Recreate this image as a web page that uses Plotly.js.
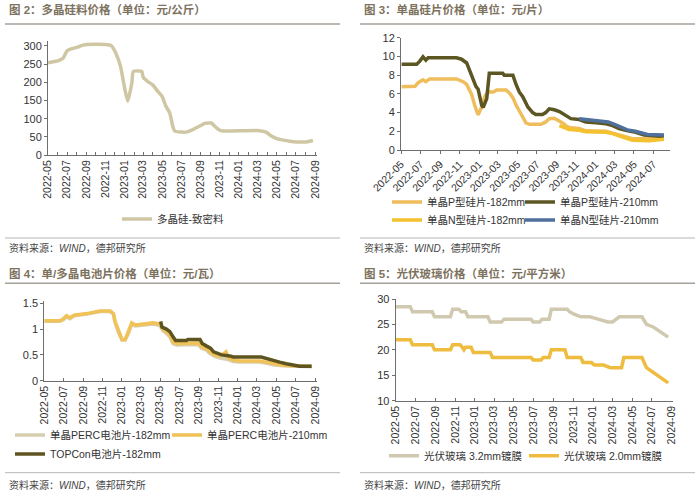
<!DOCTYPE html>
<html><head><meta charset="utf-8">
<script src="https://cdn.plot.ly/plotly-3.0.1.min.js"></script>
<style>html,body{margin:0;padding:0;background:#fff;}#chart{width:700px;height:495px;}</style>
</head><body><div id="chart"></div>
<script>
// ---------- Figure 2: polysilicon ----------
const polyDates = ['2022-05-01','2022-06-01','2022-06-18','2022-07-01','2022-07-14','2022-08-01','2022-08-16','2022-09-01','2022-11-01','2022-11-19','2022-12-04','2022-12-19','2023-01-01','2023-01-11','2023-01-24','2023-01-29','2023-02-25','2023-03-01','2023-03-16','2023-04-01','2023-04-17','2023-05-01','2023-05-13','2023-05-25','2023-06-04','2023-06-10','2023-07-01','2023-07-16','2023-08-07','2023-09-01','2023-09-14','2023-10-05','2023-10-16','2023-11-01','2023-11-12','2024-03-07','2024-03-28','2024-04-14','2024-05-01','2024-05-22','2024-06-12','2024-07-03','2024-08-04','2024-08-25'];
const polyDense = [254,259,266,287,292,296,301,304,304,301,280,243,184,148,198,230,230,214,202,193,175,161,134,116,79,66,63,63,70,81,87,88,79,68,66,67,63,52,45,41,38,36,36,40];

// ---------- Figure 3: wafers ----------
const wP182Dates = ['2022-05-03','2022-06-14','2022-06-24','2022-07-09','2022-07-18','2022-07-30','2022-10-22','2022-11-12','2022-11-23','2022-12-08','2022-12-18','2022-12-29','2023-01-09','2023-01-20','2023-01-30','2023-02-15','2023-02-25','2023-03-27','2023-04-06','2023-04-17','2023-04-27','2023-05-07','2023-05-18','2023-05-28','2023-06-08','2023-07-14','2023-07-29','2023-08-09','2023-08-25','2023-09-05','2023-09-20','2023-09-30','2023-10-11','2023-11-11','2023-12-02','2024-02-03','2024-02-24','2024-03-15','2024-04-05','2024-04-26','2024-06-17','2024-08-03'];
const wP182 = [6.75,6.8,7.2,7.5,7.3,7.6,7.6,7.3,7.0,6.0,4.8,3.75,4.6,5.8,6.2,6.2,6.4,6.4,6.1,5.6,4.8,4.2,3.5,2.9,2.75,2.75,3.0,3.35,3.4,3.2,2.9,2.6,2.4,2.3,2.05,2.0,1.8,1.6,1.35,1.2,1.2,1.3];
const wP210Dates = ['2022-05-03','2022-06-19','2022-06-29','2022-07-09','2022-07-18','2022-07-25','2022-10-22','2022-11-07','2022-11-23','2022-12-03','2022-12-13','2022-12-22','2022-12-29','2023-01-09','2023-01-14','2023-01-25','2023-02-02','2023-03-16','2023-03-21','2023-04-17','2023-04-27','2023-05-07','2023-05-18','2023-06-03','2023-06-18','2023-06-28','2023-07-19','2023-07-29','2023-08-09','2023-08-25','2023-09-10','2023-09-20','2023-09-30','2023-10-16','2023-11-11','2023-12-02','2024-01-03','2024-02-03','2024-02-24','2024-03-15','2024-04-05','2024-05-06','2024-06-02','2024-06-17','2024-08-03'];
const wP210 = [9.15,9.15,9.5,9.95,9.6,9.85,9.85,9.7,9.3,8.5,7.5,6.8,6.5,4.8,4.55,5.5,8.2,8.2,8.0,8.0,7.0,6.2,5.7,4.6,4.0,3.8,3.8,4.0,4.4,4.3,4.1,3.9,3.6,3.35,3.25,3.0,2.9,2.8,2.6,2.3,2.1,1.9,1.6,1.55,1.45];
const wN182Dates = ['2023-09-10','2023-09-30','2023-10-11','2023-11-11','2023-12-02','2024-02-03','2024-02-24','2024-03-15','2024-04-05','2024-04-26','2024-06-17','2024-08-03'];
const wN182 = [2.6,2.3,2.2,2.1,1.95,1.9,1.75,1.5,1.25,1.05,1.0,1.15];
const wN210Dates = ['2023-11-11','2023-12-10','2024-01-20','2024-02-10','2024-03-01','2024-03-20','2024-04-10','2024-05-05','2024-05-25','2024-06-12','2024-08-03'];
const wN210 = [3.35,3.25,3.15,3.0,2.75,2.45,2.15,2.0,1.85,1.65,1.6];

// ---------- Figure 4: cells ----------
const cP182Dates = ['2022-05-01','2022-06-19','2022-06-30','2022-07-10','2022-07-21','2022-08-03','2022-09-12','2022-10-13','2022-10-24','2022-11-25','2022-12-05','2022-12-10','2022-12-21','2023-01-01','2023-01-11','2023-01-22','2023-02-01','2023-02-12','2023-03-19','2023-04-09','2023-04-30','2023-05-10','2023-05-21','2023-06-01','2023-06-11','2023-06-22','2023-08-29','2023-09-09','2023-09-25','2023-10-05','2023-10-21','2023-11-06','2023-12-02','2023-12-18','2024-01-08','2024-03-10','2024-03-31','2024-04-21','2024-05-23','2024-06-24','2024-08-21'];
const cP182 = [1.15,1.15,1.18,1.24,1.2,1.26,1.29,1.32,1.34,1.34,1.29,1.13,0.93,0.79,0.79,0.93,1.1,1.06,1.08,1.1,1.07,0.97,0.92,0.85,0.72,0.69,0.7,0.63,0.59,0.53,0.47,0.44,0.41,0.37,0.36,0.36,0.34,0.31,0.29,0.28,0.27];
const cP210Dates = ['2022-05-01','2022-06-19','2022-06-30','2022-07-10','2022-07-21','2022-08-03','2022-09-12','2022-10-13','2022-10-24','2022-11-25','2022-12-05','2022-12-10','2022-12-21','2023-01-01','2023-01-11','2023-01-22','2023-02-01','2023-02-12','2023-03-19','2023-04-09','2023-04-30','2023-05-10','2023-05-21','2023-06-01','2023-06-11','2023-06-22','2023-08-29','2023-09-09','2023-09-25','2023-10-05','2023-10-21','2023-11-06','2023-11-17','2023-11-25','2023-12-02','2023-12-18','2024-01-08','2024-03-10','2024-03-31','2024-04-21','2024-05-23','2024-06-24','2024-08-21'];
const cP210 = [1.16,1.16,1.2,1.26,1.22,1.27,1.3,1.33,1.35,1.35,1.3,1.15,0.95,0.8,0.8,0.95,1.12,1.08,1.1,1.12,1.1,1.0,0.95,0.88,0.75,0.72,0.73,0.66,0.62,0.56,0.5,0.48,0.52,0.56,0.45,0.4,0.38,0.38,0.36,0.33,0.3,0.29,0.28];
const cTopDates = ['2023-05-03','2023-05-07','2023-05-21','2023-06-01','2023-06-11','2023-06-19','2023-07-23','2023-07-28','2023-09-04','2023-09-11','2023-09-25','2023-10-07','2023-10-17','2023-10-30','2023-11-11','2023-12-07','2023-12-18','2024-03-15','2024-03-31','2024-04-21','2024-05-12','2024-06-02','2024-06-24','2024-07-14','2024-08-21'];
const cTop = [1.15,1.04,1.0,0.95,0.85,0.78,0.78,0.8,0.8,0.72,0.67,0.63,0.56,0.52,0.5,0.48,0.46,0.46,0.43,0.4,0.36,0.33,0.3,0.28,0.28];

// ---------- Figure 5: PV glass ----------
const g32Dates = ['2022-05-01','2022-06-15','2022-06-22','2022-08-22','2022-08-29','2022-10-17','2022-10-24','2022-11-12','2022-11-19','2022-12-03','2022-12-10','2023-02-10','2023-02-17','2023-03-24','2023-04-01','2023-06-23','2023-06-30','2023-07-20','2023-07-27','2023-08-18','2023-08-25','2023-10-13','2023-10-20','2023-11-03','2023-11-24','2023-12-22','2024-01-19','2024-02-16','2024-03-01','2024-03-22','2024-05-31','2024-06-14','2024-07-05','2024-08-20'];
const g32 = [28.5,28.5,27.5,27.5,26.5,26.5,28,28,27.5,27.5,26.5,26.5,25.5,25.5,26,26,25.5,25.5,26,26,28,28,27.5,27,26.5,26.5,26,25.5,25.5,26.5,26.5,25,24.5,22.5];
const g20Dates = ['2022-05-01','2022-06-15','2022-06-22','2022-08-22','2022-08-29','2022-10-17','2022-10-24','2022-11-16','2022-11-23','2022-11-28','2022-12-03','2022-12-20','2022-12-27','2023-02-17','2023-02-24','2023-06-23','2023-06-30','2023-07-24','2023-07-31','2023-08-18','2023-08-25','2023-10-06','2023-10-13','2023-11-24','2023-12-01','2023-12-27','2024-01-05','2024-02-02','2024-02-23','2024-03-29','2024-04-05','2024-05-31','2024-06-14','2024-08-20'];
const g20 = [22,22,21,21,20,20,21,21,20.5,20,20.5,20.5,19.5,19.5,18.5,18.5,18,18,18.5,18.5,20,20,18.5,18.5,17.5,17.5,17,17,16.5,16.5,18.5,18.5,16.5,13.5];

// ---------- Texts ----------
const titles = ['图 2：多晶硅料价格（单位：元/公斤）','图 3：单晶硅片价格（单位：元/片）','图 4：单/多晶电池片价格（单位：元/瓦）','图 5：光伏玻璃价格（单位：元/平方米）'];
const sourceText = '资料来源：<i>WIND</i>，德邦研究所';
const names = {
  poly: '多晶硅-致密料',
  wP182: '单晶P型硅片-182mm', wP210: '单晶P型硅片-210mm', wN182: '单晶N型硅片-182mm', wN210: '单晶N型硅片-210mm',
  cP182: '单晶PERC电池片-182mm', cP210: '单晶PERC电池片-210mm', cTop: 'TOPCon电池片-182mm',
  g32: '光伏玻璃 3.2mm镀膜', g20: '光伏玻璃 2.0mm镀膜'
};

const W = 700, H = 495;
const px = v => v / W;
const py = v => 1 - v / H;
const LW = 3.5;
const FONT = 'Liberation Sans, Arial, Noto Sans CJK SC, sans-serif';

function tr(x, y, name, color, xa, ya, leg, extra) {
  return Object.assign({type: 'scatter', mode: 'lines', x: x, y: y, name: name, xaxis: xa, yaxis: ya,
    legend: leg, line: {color: color, width: LW}, hoverinfo: 'skip'}, extra || {});
}

const data = [
  tr(polyDates, polyDense, names.poly, '#CFC7A4', 'x', 'y', 'legend', {line: {color: '#CFC7A4', width: LW, shape: 'spline', smoothing: 0.5}}),
  tr(wP182Dates, wP182, names.wP182, '#F0BD5C', 'x2', 'y2', 'legend2'),
  tr(wP210Dates, wP210, names.wP210, '#5C5622', 'x2', 'y2', 'legend3'),
  tr(wN182Dates, wN182, names.wN182, '#F3C22E', 'x2', 'y2', 'legend4'),
  tr(wN210Dates, wN210, names.wN210, '#4F6F9D', 'x2', 'y2', 'legend5'),
  tr(cP182Dates, cP182, names.cP182, '#D6CEAC', 'x3', 'y3', 'legend6'),
  tr(cP210Dates, cP210, names.cP210, '#F1C257', 'x3', 'y3', 'legend7'),
  tr(cTopDates, cTop, names.cTop, '#5E5420', 'x3', 'y3', 'legend8'),
  tr(g32Dates, g32, names.g32, '#D0C9AF', 'x4', 'y4', 'legend9'),
  tr(g20Dates, g20, names.g20, '#EEBC3E', 'x4', 'y4', 'legend10')
];

const axisBase = {showgrid: false, zeroline: false, showline: true, linecolor: '#6e6e6e', linewidth: 1,
  tickcolor: '#6e6e6e', ticklen: 3, tickfont: {family: FONT, size: 11, color: '#333'}, fixedrange: true};
function xax(domain, range, angle, ticksDir, minor, anchor) {
  const a = Object.assign({}, axisBase, {type: 'date', domain: domain, range: range, tick0: '2022-05-01', dtick: 'M2',
    tickformat: '%Y-%m', tickangle: angle, ticks: ticksDir, anchor: anchor,
    tickfont: {family: FONT, size: 10.5, color: '#333'}});
  if (minor) a.minor = {dtick: 'M1', tick0: '2022-05-01', ticks: ticksDir, ticklen: 3, tickcolor: '#6e6e6e'};
  return a;
}
function yax(domain, range, dtick, anchor) {
  return Object.assign({}, axisBase, {domain: domain, range: range, dtick: dtick, ticks: 'outside', anchor: anchor});
}

// legend placed so that its text starts at textX (Plotly puts text 40px right of the legend origin)
function legendAt(textX, y) {
  return {x: px(textX - 40), y: py(y), xanchor: 'left', yanchor: 'middle', orientation: 'h', bgcolor: 'rgba(0,0,0,0)',
    font: {family: FONT, size: 10.5, color: '#333'}, itemwidth: 30};
}

const annotations = [];
const titlePos = [[7, 9], [362, 9], [7, 273], [362, 273]];
titles.forEach((t, i) => annotations.push({text: t, xref: 'paper', yref: 'paper', x: px(titlePos[i][0]), y: py(titlePos[i][1]),
  xanchor: 'left', yanchor: 'middle', showarrow: false, font: {family: FONT, size: 11.5, color: '#7d725e', weight: 700}}));
[[7, 248], [362, 248], [7, 485], [362, 485]].forEach(p => annotations.push({text: sourceText, xref: 'paper', yref: 'paper',
  x: px(p[0]), y: py(p[1]), xanchor: 'left', yanchor: 'middle', showarrow: false, font: {family: FONT, size: 10, color: '#444'}}));

const shapes = [];
[[5, 340, 24], [360, 695, 24], [5, 340, 238], [360, 695, 238], [5, 340, 283.3], [360, 695, 283.3], [5, 340, 472.7], [360, 695, 472.7]].forEach(s => {
  const under = (s[2] === 24 || s[2] === 283.3);
  shapes.push({type: 'line', xref: 'paper', yref: 'paper', x0: px(s[0]), x1: px(s[1]), y0: py(s[2]), y1: py(s[2]),
    line: {color: under ? '#a7a299' : '#b5b5b5', width: under ? 1.6 : 1}});
});

const layout = {
  width: W, height: H, margin: {l: 0, r: 0, t: 0, b: 0}, paper_bgcolor: '#fff', plot_bgcolor: '#fff',
  font: {family: FONT, size: 11, color: '#333'}, showlegend: true,
  xaxis: xax([px(48), px(317)], ['2022-05-01', '2024-09-07'], -90, 'inside', true, 'y'),
  yaxis: yax([py(155), py(40.5)], [0, 315], 50, 'x'),
  xaxis2: xax([px(401), px(670)], ['2022-05-01', '2024-08-22'], -45, 'outside', false, 'y2'),
  yaxis2: yax([py(150), py(37.7)], [0, 12], 2, 'x2'),
  xaxis3: xax([px(44.3), px(316.7)], ['2022-05-01', '2024-09-06'], -90, 'inside', false, 'y3'),
  yaxis3: Object.assign(yax([py(380.7), py(300.7)], [0, 1.55], 0.5, 'x3'), {tickvals: [0, 0.5, 1, 1.5], ticktext: ['0', '0.5', '1', '1.5']}),
  xaxis4: xax([px(395.7), px(672.7)], ['2022-05-01', '2024-09-03'], -90, 'inside', false, 'y4'),
  yaxis4: yax([py(400.7), py(299)], [10, 30], 5, 'x4'),
  legend: legendAt(157, 219),
  legend2: legendAt(427, 202),
  legend3: legendAt(560, 202),
  legend4: legendAt(427, 220),
  legend5: legendAt(560, 220),
  legend6: legendAt(50, 435),
  legend7: legendAt(207, 435),
  legend8: legendAt(50, 454),
  legend9: legendAt(424, 455.7),
  legend10: legendAt(564, 455.7),
  annotations: annotations, shapes: shapes
};

Plotly.newPlot('chart', data, layout, {staticPlot: true, displayModeBar: false});
</script></body></html>
